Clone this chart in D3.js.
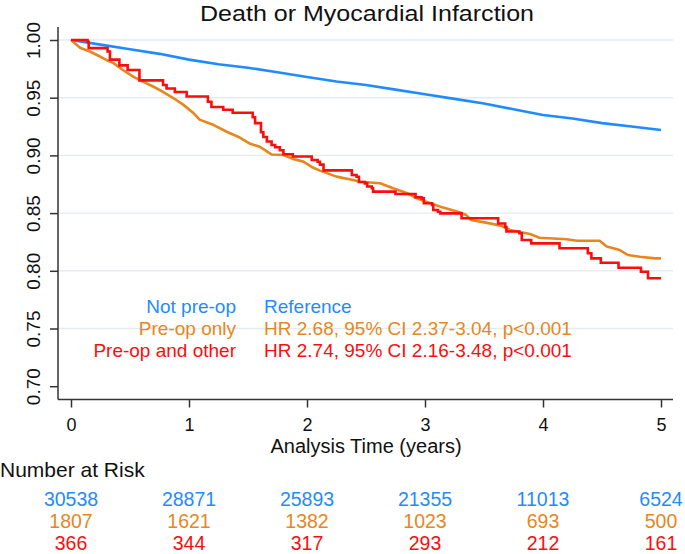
<!DOCTYPE html>
<html>
<head>
<meta charset="utf-8">
<script src="https://cdn.jsdelivr.net/npm/d3@7"></script>
<style>
  html, body { margin: 0; padding: 0; background: #fff; }
  svg { display: block; font-family: "Liberation Sans", Arial, sans-serif; }
</style>
</head>
<body>
<svg id="km" width="685" height="554"></svg>
<script>
// survival curves: [years, survival]
const notPreop = [
  [0, 1.000], [0.25, 0.996], [0.5, 0.992], [0.75, 0.988], [1.0, 0.983],
  [1.25, 0.979], [1.5, 0.976], [1.75, 0.972], [2.0, 0.968], [2.25, 0.964],
  [2.5, 0.961], [2.75, 0.957], [3.0, 0.953], [3.25, 0.949], [3.5, 0.945],
  [3.75, 0.940], [4.0, 0.935], [4.25, 0.932], [4.5, 0.928], [4.75, 0.925],
  [5.0, 0.922]
];
const preopOnly = [
  [0, 1.000], [0.05, 0.9957], [0.08, 0.993], [0.16, 0.990], [0.22, 0.987],
  [0.30, 0.9827], [0.36, 0.980], [0.44, 0.974], [0.53, 0.968], [0.61, 0.964],
  [0.70, 0.9595], [0.78, 0.955], [0.87, 0.9495], [0.95, 0.944], [1.04, 0.9365],
  [1.09, 0.931], [1.21, 0.9263], [1.32, 0.9205], [1.43, 0.9155], [1.52, 0.910],
  [1.60, 0.9075], [1.66, 0.9035], [1.70, 0.9008], [1.80, 0.9003], [1.89, 0.8966],
  [1.97, 0.8946], [2.04, 0.890], [2.11, 0.8868], [2.25, 0.8816], [2.39, 0.8787],
  [2.45, 0.8772], [2.62, 0.8758], [2.73, 0.8715], [2.85, 0.8672], [2.93, 0.8628],
  [3.01, 0.8599], [3.13, 0.8556], [3.28, 0.8512], [3.35, 0.8483], [3.39, 0.844],
  [3.55, 0.8411], [3.65, 0.8388], [3.72, 0.8354], [3.89, 0.8319], [3.97, 0.8287],
  [4.20, 0.8273], [4.29, 0.8261], [4.48, 0.8261], [4.54, 0.821], [4.65, 0.818],
  [4.72, 0.8137], [4.82, 0.8122], [4.95, 0.8108], [5.0, 0.8108]
];
const preopOther = [
  [0, 1.000], [0.14, 0.9985], [0.15, 0.993], [0.31, 0.990], [0.33, 0.983],
  [0.41, 0.978], [0.48, 0.974], [0.58, 0.965], [0.78, 0.961], [0.81, 0.958],
  [0.88, 0.955], [0.98, 0.951], [1.16, 0.9465], [1.19, 0.942], [1.29, 0.9395],
  [1.37, 0.937], [1.54, 0.933], [1.56, 0.928], [1.61, 0.920], [1.63, 0.916],
  [1.66, 0.912], [1.70, 0.909], [1.73, 0.907], [1.77, 0.9045], [1.80, 0.901],
  [1.88, 0.899], [2.04, 0.896], [2.09, 0.8945], [2.11, 0.892], [2.14, 0.887],
  [2.38, 0.883], [2.42, 0.8815], [2.44, 0.877], [2.49, 0.8758], [2.51, 0.873],
  [2.55, 0.8715], [2.56, 0.8686], [2.75, 0.8666], [2.92, 0.8637], [2.97, 0.8628],
  [2.99, 0.8585], [3.06, 0.857], [3.07, 0.8527], [3.11, 0.8512], [3.13, 0.8498],
  [3.31, 0.8455], [3.62, 0.841], [3.68, 0.838], [3.69, 0.834], [3.80, 0.8325],
  [3.82, 0.8267], [3.90, 0.8238], [4.14, 0.8195], [4.38, 0.8152], [4.41, 0.8108],
  [4.49, 0.807], [4.64, 0.8027], [4.83, 0.7992], [4.89, 0.7935], [5.0, 0.7935]
];

const groups = ["Not pre-op", "Pre-op only", "Pre-op and other"];
const hrText = ["Reference", "HR 2.68, 95% CI 2.37-3.04, p<0.001", "HR 2.74, 95% CI 2.16-3.48, p<0.001"];
const riskTimes = [0, 1, 2, 3, 4, 5];
const riskNotPreop = [30538, 28871, 25893, 21355, 11013, 6524];
const riskPreopOnly = [1807, 1621, 1382, 1023, 693, 500];
const riskPreopOther = [366, 344, 317, 293, 212, 161];
const yTicks = [0.70, 0.75, 0.80, 0.85, 0.90, 0.95, 1.00];
const xTicks = [0, 1, 2, 3, 4, 5];

const BLUE = "#1f8bff";
const ORANGE = "#e8861c";
const RED = "#fb0d0d";
const GRID = "#e3ecf1";
const AXIS = "#333333";

const svg = d3.select("#km");

const x = d3.scaleLinear().domain([0, 5]).range([71, 661]);
const y = d3.scaleLinear().domain([0.70, 1.00]).range([386.2, 40]);

const plotLeft = 58, plotRight = 673, plotTop = 27, plotBottom = 399.5;

// gridlines (none at the bottom tick)
svg.append("g")
  .selectAll("line")
  .data(yTicks.filter(d => d > 0.70))
  .join("line")
  .attr("x1", plotLeft).attr("x2", plotRight)
  .attr("y1", d => y(d)).attr("y2", d => y(d))
  .attr("stroke", GRID)
  .attr("stroke-width", 1.4);

// y axis
const yAxis = svg.append("g")
  .attr("transform", `translate(${plotLeft},0)`)
  .call(d3.axisLeft(y).tickValues(yTicks).tickSize(8).tickFormat(d3.format(".2f")).tickSizeOuter(0));
yAxis.select(".domain").attr("d", `M0,${plotTop}V${plotBottom}`);
yAxis.selectAll("text")
  .attr("transform", "rotate(-90)")
  .attr("x", 0).attr("y", -18)
  .attr("dy", 0)
  .attr("text-anchor", "middle")
  .style("font-size", "19px");

// x axis
const xAxis = svg.append("g")
  .attr("transform", `translate(0,${plotBottom})`)
  .call(d3.axisBottom(x).tickValues(xTicks).tickSize(8).tickFormat(d3.format("d")).tickSizeOuter(0));
xAxis.select(".domain").attr("d", `M${plotLeft},0H${plotRight}`);
xAxis.selectAll("text")
  .attr("y", 31.5).attr("dy", 0)
  .style("font-size", "18px");

svg.selectAll(".domain, .tick line")
  .attr("stroke", AXIS)
  .attr("stroke-width", 1.5);
svg.selectAll(".tick text").attr("fill", "#111");
svg.selectAll(".tick text").style("font-family", "'Liberation Sans', Arial, sans-serif");

// curves
const lineLin = d3.line().x(d => x(d[0])).y(d => y(d[1]));
const lineStep = d3.line().x(d => x(d[0])).y(d => y(d[1])).curve(d3.curveStepAfter);

svg.append("path").datum(notPreop)
  .attr("d", lineLin).attr("fill", "none")
  .attr("stroke", BLUE).attr("stroke-width", 2.6);
svg.append("path").datum(preopOnly)
  .attr("d", lineLin).attr("fill", "none")
  .attr("stroke", ORANGE).attr("stroke-width", 2.6).attr("stroke-linejoin", "round");
svg.append("path").datum(preopOther)
  .attr("d", lineStep).attr("fill", "none")
  .attr("stroke", RED).attr("stroke-width", 2.6);

// title
svg.append("text")
  .attr("x", 367).attr("y", 20.5)
  .attr("text-anchor", "middle")
  .attr("textLength", 334)
  .attr("lengthAdjust", "spacingAndGlyphs")
  .style("font-size", "22px")
  .attr("fill", "#111")
  .text("Death or Myocardial Infarction");

// legend
const colors = [BLUE, ORANGE, RED];
const leg = svg.append("g").style("font-size", "19px");
leg.selectAll("text.grp")
  .data(groups)
  .join("text")
  .attr("class", "grp")
  .attr("x", 236)
  .attr("y", (d, i) => 313 + i * 22)
  .attr("text-anchor", "end")
  .attr("fill", (d, i) => colors[i])
  .text(d => d);
leg.selectAll("text.hr")
  .data(hrText)
  .join("text")
  .attr("class", "hr")
  .attr("x", 264)
  .attr("y", (d, i) => 313 + i * 22)
  .attr("fill", (d, i) => colors[i])
  .text(d => d);

// axis title
svg.append("text")
  .attr("x", 366).attr("y", 452.5)
  .attr("text-anchor", "middle")
  .style("font-size", "20px")
  .attr("fill", "#111")
  .text("Analysis Time (years)");

// number at risk table
svg.append("text")
  .attr("x", 0).attr("y", 477)
  .style("font-size", "21px")
  .attr("fill", "#111")
  .text("Number at Risk");

const riskRows = [riskNotPreop, riskPreopOnly, riskPreopOther];
riskRows.forEach((row, r) => {
  svg.append("g")
    .selectAll("text")
    .data(row)
    .join("text")
    .attr("x", (d, i) => x(riskTimes[i]))
    .attr("y", 506 + r * 22)
    .attr("text-anchor", "middle")
    .style("font-size", "19.5px")
    .attr("fill", colors[r])
    .text(d => d);
});
</script>
</body>
</html>
